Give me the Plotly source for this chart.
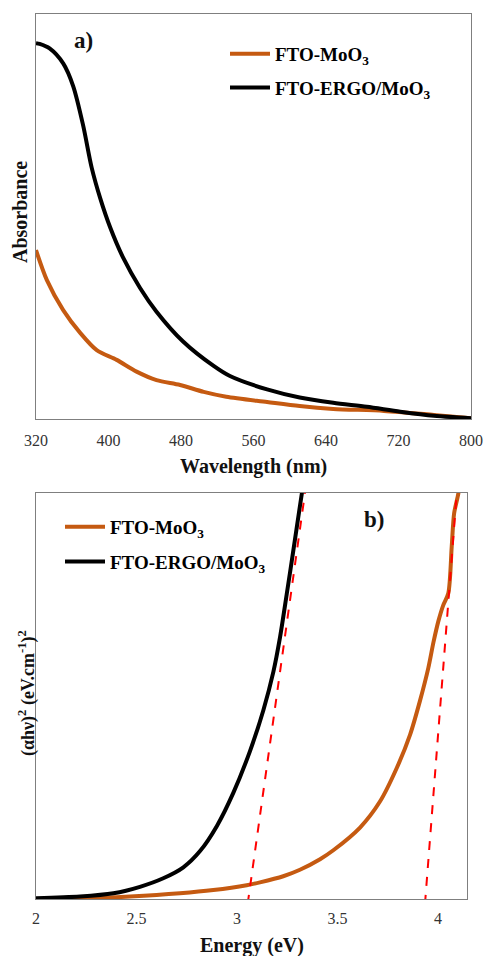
import plotly.graph_objects as go

# ---------------- data: panel a (absorbance, arbitrary units) ----------------
wl_ergo = [320, 324, 335, 350, 361, 372, 381.5, 391, 402, 416, 435, 453, 482, 516, 534, 575, 611, 648, 685, 722, 759, 800]
abs_ergo = [0.928, 0.926, 0.915, 0.878, 0.822, 0.725, 0.620, 0.544, 0.472, 0.399, 0.323, 0.265, 0.192, 0.131, 0.106, 0.073, 0.053, 0.040, 0.030, 0.018, 0.008, 0.002]
wl_moo3 = [320, 332, 350, 369, 387, 409, 431, 453, 479, 505, 530, 575, 611, 648, 704, 759, 800]
abs_moo3 = [0.417, 0.343, 0.269, 0.212, 0.170, 0.146, 0.117, 0.096, 0.084, 0.067, 0.055, 0.042, 0.032, 0.025, 0.020, 0.010, 0.002]
wl_ticks = [320, 400, 480, 560, 640, 720, 800]

# ---------------- data: panel b (Tauc plot, arbitrary units) ----------------
e_ergo = [2.0, 2.219, 2.385, 2.517, 2.633, 2.733, 2.816, 2.90, 2.982, 3.065, 3.131, 3.181, 3.214, 3.247, 3.280, 3.313, 3.335]
tauc_ergo = [0.002, 0.006, 0.014, 0.030, 0.051, 0.078, 0.118, 0.180, 0.262, 0.365, 0.465, 0.560, 0.645, 0.750, 0.858, 0.968, 1.04]
e_moo3 = [2.0, 2.219, 2.468, 2.716, 2.882, 3.048, 3.114, 3.23, 3.313, 3.413, 3.479, 3.612, 3.711, 3.794, 3.861, 3.910, 3.952, 3.977, 4.002, 4.026, 4.051, 4.068, 4.080, 4.101, 4.11]
tauc_moo3 = [0.0, 0.001, 0.006, 0.014, 0.022, 0.034, 0.041, 0.056, 0.072, 0.098, 0.120, 0.176, 0.240, 0.322, 0.405, 0.488, 0.570, 0.632, 0.685, 0.724, 0.753, 0.868, 0.950, 0.999, 1.04]
fit_ergo_e = [3.053, 3.338]
fit_moo3_e = [3.935, 4.093]
fit_y = [-0.012, 1.0]
e_ticks = [2, 2.5, 3, 3.5, 4]

ORANGE = "#C55A11"
BLACK = "#000000"
SERIF = "Liberation Serif, Times New Roman, serif"
FRAME = "#7f7f7f"
W, H = 486, 956

fig = go.Figure()

fig.add_trace(go.Scatter(x=wl_moo3, y=abs_moo3, mode="lines", line=dict(color=ORANGE, width=4, shape="spline", smoothing=0.8),
                         name="<b>FTO-MoO<sub>3</sub></b>", legend="legend", legendgroup="a1", xaxis="x", yaxis="y"))
fig.add_trace(go.Scatter(x=wl_ergo, y=abs_ergo, mode="lines", line=dict(color=BLACK, width=4, shape="spline", smoothing=0.8),
                         name="<b>FTO-ERGO/MoO<sub>3</sub></b>", legend="legend", legendgroup="a2", xaxis="x", yaxis="y"))

fig.add_trace(go.Scatter(x=e_moo3, y=tauc_moo3, mode="lines", line=dict(color=ORANGE, width=4, shape="spline", smoothing=0.8),
                         name="<b>FTO-MoO<sub>3</sub></b>", legend="legend2", legendgroup="b1", xaxis="x2", yaxis="y2"))
fig.add_trace(go.Scatter(x=e_ergo, y=tauc_ergo, mode="lines", line=dict(color=BLACK, width=4, shape="spline", smoothing=0.8),
                         name="<b>FTO-ERGO/MoO<sub>3</sub></b>", legend="legend2", legendgroup="b2", xaxis="x2", yaxis="y2"))
fig.add_trace(go.Scatter(x=fit_ergo_e, y=fit_y, mode="lines", line=dict(color="#FF0000", width=2, dash="dash"),
                         showlegend=False, xaxis="x2", yaxis="y2"))
fig.add_trace(go.Scatter(x=fit_moo3_e, y=fit_y, mode="lines", line=dict(color="#FF0000", width=2, dash="dash"),
                         showlegend=False, xaxis="x2", yaxis="y2"))

axis_common = dict(showline=True, mirror=True, linecolor=FRAME, linewidth=1, showgrid=False, zeroline=False,
                   ticks="", automargin=False, tickfont=dict(family=SERIF, size=16, color="#333333"))


def ann(text, x, y, size, angle=0):
    return dict(text=text, x=x / W, y=1 - y / H, xref="paper", yref="paper", showarrow=False,
                xanchor="center", yanchor="middle", textangle=angle,
                font=dict(family=SERIF, size=size, color="#111111"))


fig.update_layout(
    width=W, height=H, margin=dict(l=0, r=0, t=0, b=0, pad=0), autosize=False,
    paper_bgcolor="white", plot_bgcolor="white",
    xaxis=dict(domain=[36 / W, 471 / W], range=[320, 800], tickvals=wl_ticks, anchor="y",
               ticklabelstandoff=7, **axis_common),
    yaxis=dict(domain=[1 - 419 / H, 1 - 14 / H], range=[0, 1.0], showticklabels=False, anchor="x", **axis_common),
    xaxis2=dict(domain=[36 / W, 467 / W], range=[2, 4.144], tickvals=e_ticks, ticktext=["2", "2.5", "3", "3.5", "4"],
                anchor="y2", ticklabelstandoff=5, **axis_common),
    yaxis2=dict(domain=[1 - 899 / H, 1 - 493 / H], range=[0, 1.0], showticklabels=False, anchor="x2", **axis_common),
    legend=dict(x=225 / W, y=1 - 35 / H, xanchor="left", yanchor="top", bgcolor="rgba(0,0,0,0)",
                font=dict(family=SERIF, size=19, color="#000000"), tracegroupgap=6, itemwidth=40),
    legend2=dict(x=60 / W, y=1 - 508 / H, xanchor="left", yanchor="top", bgcolor="rgba(0,0,0,0)",
                 font=dict(family=SERIF, size=19, color="#000000"), tracegroupgap=7, itemwidth=40),
    annotations=[
        ann("<b>a)</b>", 83, 41, 23),
        ann("<b>b)</b>", 374, 519, 23),
        ann("<b>Wavelength (nm)</b>", 253, 466, 20),
        ann("<b>Energy (eV)</b>", 252, 945, 20),
        ann("<b>Absorbance</b>", 20, 212, 20, -90),
        ann("<b>(αhν)<sup>2</sup> (eV.cm<sup>-1</sup>)<sup>2</sup></b>", 27, 693, 18, -90),
    ],
)

fig.write_html("out.html", config={"displayModeBar": False},
               post_script="document.body.style.margin='0';document.body.style.overflow='hidden';")
